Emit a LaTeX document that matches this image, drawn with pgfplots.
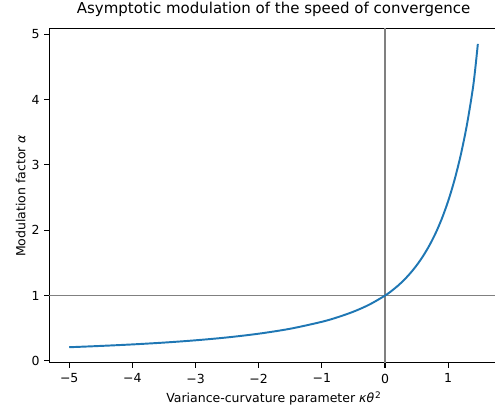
\documentclass[border=0pt]{standalone}
\usepackage{fontspec}
\setmainfont{DejaVu Sans}
\usepackage{pgfplots}
\pgfplotsset{compat=1.18}
\definecolor{mplblue}{HTML}{1F77B4}
\begin{document}
\begin{tikzpicture}
\begin{axis}[
  at={(0pt,0pt)}, anchor=south west,
  scale only axis,
  width=323.3pt, height=240.5pt,
  xmin=-5.32, xmax=1.79,
  ymin=-0.03, ymax=5.08,
  axis line style={line width=0.75pt},
  tick style={black, line width=0.75pt},
  tick align=outside,
  major tick length=3.3pt,
  xtick={-5,-4,-3,-2,-1,0,1},
  xticklabels={−5,−4,−3,−2,−1,0,1},
  ytick={0,1,2,3,4,5},
  yticklabels={0,1,2,3,4,5},
  xtick pos=bottom, ytick pos=left,
  ticklabel style={font=\fontsize{9}{11}\selectfont},
  xticklabel style={yshift=-1pt},
  xlabel={Variance-curvature parameter {\itshape κθ}\kern0.6pt\raisebox{0.6ex}{\fontsize{6.5}{8}\selectfont 2}},
  ylabel={Modulation factor {\itshape α}},
  title={Asymptotic modulation of the speed of convergence},
  title style={font=\fontsize{10.8}{13}\selectfont, at={(axis description cs:0.5,1.0208)}, anchor=base},
  xlabel style={font=\fontsize{9}{11}\selectfont, at={(axis description cs:0.5,-0.119)}, anchor=base},
  ylabel style={font=\fontsize{9}{11}\selectfont, at={(axis description cs:-0.0529,0.5)}, anchor=base},
  clip=true,
]
\addplot[gray, line width=1.2pt, forget plot] coordinates {(-6,1) (2,1)};
\addplot[gray, line width=1.2pt, forget plot] coordinates {(0,-1) (0,6)};
\addplot[mplblue, line width=1.4pt, smooth] coordinates {
(-5.0,0.210) (-4.5,0.230) (-4.0,0.253) (-3.5,0.281) (-3.0,0.316)
(-2.5,0.360) (-2.0,0.417) (-1.5,0.493) (-1.0,0.599) (-0.75,0.669)
(-0.5,0.754) (-0.25,0.861) (0,1.0) (0.1,1.0686) (0.2,1.1472)
(0.3,1.2377) (0.4,1.3419) (0.5,1.4617) (0.6,1.6006) (0.7,1.7625)
(0.8,1.9523) (0.9,2.1772) (1.0,2.4455) (1.1,2.767) (1.2,3.154)
(1.3,3.629) (1.4,4.231) (1.47,4.85)
};
\end{axis}
\pgfresetboundingbox
\useasboundingbox (-35.3pt,-31.0pt) rectangle (321.1pt,261.3pt);
\end{tikzpicture}
\end{document}
